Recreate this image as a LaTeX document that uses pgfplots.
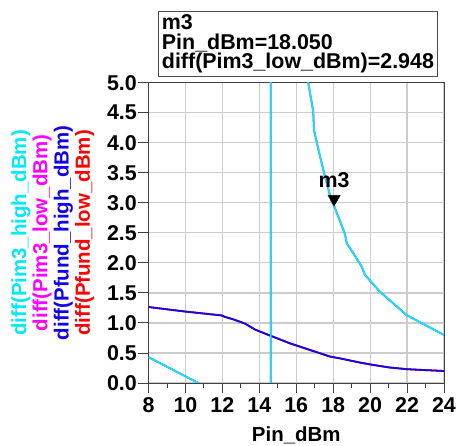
\documentclass[border=0pt]{standalone}
\usepackage{fontspec}
\setmainfont{Liberation Sans}
\usepackage{pgfplots}
\pgfplotsset{compat=1.18}
\definecolor{adscyan}{RGB}{0,235,245}
\definecolor{adsmag}{RGB}{255,0,255}
\definecolor{adsblue}{RGB}{20,0,230}
\definecolor{adsred}{RGB}{255,0,0}
\newcommand{\ff}{\fontsize{20.5}{19.5}\selectfont\bfseries}
\newcommand{\fb}{\fontsize{21.5}{19.5}\selectfont\bfseries}
\begin{document}
\begin{tikzpicture}
\begin{axis}[
  name=ax,
  scale only axis,
  width=295.5bp, height=300.3bp,
  xmin=8, xmax=24, ymin=0, ymax=5,
  xtick={8,10,...,24},
  ytick={0,0.5,1,1.5,2,2.5,3,3.5,4,4.5,5},
  minor x tick num=1,
  tick align=outside,
  tick pos=left,
  major tick length=10bp, minor tick length=5bp,
  grid=major,
  major grid style={draw=black!20, line width=1.2bp},
  axis line style={draw=black!75, line width=0.9bp},
  every tick/.style={black!75, line width=0.9bp},
  ticklabel style={font=\fb},
  /pgf/number format/assume math mode=true,
  y tick label style={inner xsep=1.5bp},
  yticklabel={\pgfmathprintnumber[fixed, fixed zerofill, precision=1]{\tick}},
  x tick label style={inner ysep=4.2bp},
]
% Pfund_low (red, under blue)
\addplot[adsred, line width=1.8bp] coordinates {
(8,1.265) (9.98,1.19) (11.96,1.125) (12.14,1.10) (12.59,1.06) (13.22,0.99)
(13.77,0.89) (14.58,0.79) (15.0,0.74) (15.66,0.66) (16.74,0.55) (17.83,0.44)
(18.37,0.41) (19.45,0.34) (19.99,0.31) (21.0,0.26) (21.98,0.23) (24,0.20)};
% Pim3_low (magenta)
\addplot[adsmag, line width=1.8bp] coordinates {
(8,0.43) (10.7,0) (11.2,-0.2) (14.6,-2) (14.62,-2) (14.62,20) (16.5,20) (16.6,6)
(16.65,5.0) (16.92,4.52) (16.96,4.21) (17.29,3.77) (17.56,3.43) (17.92,3.02)
(18.05,2.948) (18.64,2.48) (18.73,2.33) (19.09,2.16) (19.54,1.94) (19.72,1.80)
(20.53,1.52) (21.98,1.13) (24,0.80)};
% Pfund_high (blue)
\addplot[adsblue, line width=1.8bp] coordinates {
(8,1.265) (9.98,1.19) (11.96,1.125) (12.14,1.10) (12.59,1.06) (13.22,0.99)
(13.77,0.89) (14.58,0.79) (15.0,0.74) (15.66,0.66) (16.74,0.55) (17.83,0.44)
(18.37,0.41) (19.45,0.34) (19.99,0.31) (21.0,0.26) (21.98,0.23) (24,0.20)};
% Pim3_high (cyan)
\addplot[adscyan, line width=1.8bp] coordinates {
(8,0.43) (10.7,0) (11.2,-0.2) (14.6,-2) (14.62,-2) (14.62,20) (16.5,20) (16.6,6)
(16.65,5.0) (16.92,4.52) (16.96,4.21) (17.29,3.77) (17.56,3.43) (17.92,3.02)
(18.05,2.948) (18.64,2.48) (18.73,2.33) (19.09,2.16) (19.54,1.94) (19.72,1.80)
(20.53,1.52) (21.98,1.13) (24,0.80)};
% marker m3
\addplot[only marks, mark=triangle*, mark size=7bp,
  mark options={yshift=7bp, rotate=180, fill=black, draw=black},
  nodes near coords={m3},
  nodes near coords style={anchor=base, yshift=11bp, font=\fb, text=black}]
  coordinates {(18.05,2.948)};
\end{axis}
\node[font=\ff, anchor=base] at ([yshift=-58.7bp]ax.south) {Pin\_dBm};
\node[rotate=90, font=\ff, text=adscyan] at ([xshift=-127.5bp]ax.west) {diff(Pim3\_high\_dBm)};
\node[rotate=90, font=\ff, text=adsmag] at ([xshift=-106.5bp]ax.west) {diff(Pim3\_low\_dBm)};
\node[rotate=90, font=\ff, text=adsblue] at ([xshift=-85bp]ax.west) {diff(Pfund\_high\_dBm)};
\node[rotate=90, font=\ff, text=adsred] at ([xshift=-64bp]ax.west) {diff(Pfund\_low\_dBm)};
\node[draw=black!70, line width=0.9bp, anchor=south west, align=left, font=\fb,
  inner xsep=3.5bp, inner ysep=2bp, minimum height=65.6bp]
  at ([xshift=9.5bp, yshift=5.4bp]ax.north west)
  {m3\\Pin\_dBm=18.050\\diff(Pim3\_low\_dBm)=2.948};
\pgfresetboundingbox
\path[use as bounding box] (ax.south west) ++(-148.5bp,-63bp) rectangle ++(456bp,446bp);
\end{tikzpicture}
\end{document}
